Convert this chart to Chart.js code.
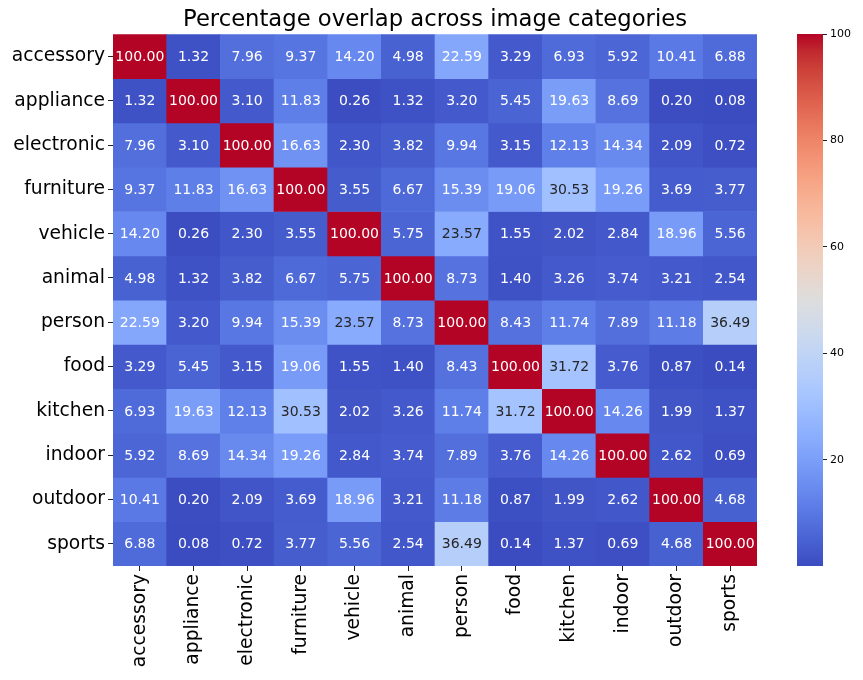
<!DOCTYPE html>
<html>
<head>
<meta charset="utf-8">
<script src="https://cdn.jsdelivr.net/npm/chart.js@4.4.0/dist/chart.umd.min.js"></script>
<style>
  body { margin: 0; background: #fff; }
  #wrap { position: relative; width: 863px; height: 680px; }
  #heat { position: absolute; left: 0; top: 0; }
  #cbar { position: absolute; left: 760px; top: 0; }
</style>
</head>
<body>
<div id="wrap">
  <canvas id="heat" width="863" height="680"></canvas>
  <canvas id="cbar" width="103" height="680"></canvas>
</div>
<script>
// categories (rows top to bottom, columns left to right)
const categories = [
  "accessory", "appliance", "electronic", "furniture", "vehicle", "animal",
  "person", "food", "kitchen", "indoor", "outdoor", "sports",
];

// overlap values, one array per row
const accessory  = [100.00, 1.32, 7.96, 9.37, 14.20, 4.98, 22.59, 3.29, 6.93, 5.92, 10.41, 6.88];
const appliance  = [1.32, 100.00, 3.10, 11.83, 0.26, 1.32, 3.20, 5.45, 19.63, 8.69, 0.20, 0.08];
const electronic = [7.96, 3.10, 100.00, 16.63, 2.30, 3.82, 9.94, 3.15, 12.13, 14.34, 2.09, 0.72];
const furniture  = [9.37, 11.83, 16.63, 100.00, 3.55, 6.67, 15.39, 19.06, 30.53, 19.26, 3.69, 3.77];
const vehicle    = [14.20, 0.26, 2.30, 3.55, 100.00, 5.75, 23.57, 1.55, 2.02, 2.84, 18.96, 5.56];
const animal     = [4.98, 1.32, 3.82, 6.67, 5.75, 100.00, 8.73, 1.40, 3.26, 3.74, 3.21, 2.54];
const person     = [22.59, 3.20, 9.94, 15.39, 23.57, 8.73, 100.00, 8.43, 11.74, 7.89, 11.18, 36.49];
const food       = [3.29, 5.45, 3.15, 19.06, 1.55, 1.40, 8.43, 100.00, 31.72, 3.76, 0.87, 0.14];
const kitchen    = [6.93, 19.63, 12.13, 30.53, 2.02, 3.26, 11.74, 31.72, 100.00, 14.26, 1.99, 1.37];
const indoor     = [5.92, 8.69, 14.34, 19.26, 2.84, 3.74, 7.89, 3.76, 14.26, 100.00, 2.62, 0.69];
const outdoor    = [10.41, 0.20, 2.09, 3.69, 18.96, 3.21, 11.18, 0.87, 1.99, 2.62, 100.00, 4.68];
const sports     = [6.88, 0.08, 0.72, 3.77, 5.56, 2.54, 36.49, 0.14, 1.37, 0.69, 4.68, 100.00];

const rows = [accessory, appliance, electronic, furniture, vehicle, animal,
  person, food, kitchen, indoor, outdoor, sports];

const colorbarTicks = [20, 40, 60, 80, 100];

const vmin = Math.min(...rows.flat());
const vmax = 100;

// coolwarm colormap
const coolwarm = [
  [59,76,192],[68,90,204],[77,104,215],[87,117,225],[98,130,234],[108,142,241],
  [119,154,247],[130,165,251],[141,176,254],[152,185,255],[163,194,255],[174,201,253],
  [184,208,249],[194,213,244],[204,217,238],[213,219,230],[221,221,221],[229,216,209],
  [236,211,197],[241,204,185],[245,196,173],[247,187,160],[247,177,148],[247,166,135],
  [244,154,123],[241,141,111],[236,127,99],[229,112,88],[222,96,77],[213,80,66],
  [203,62,56],[192,40,47],[180,4,38],
];

function cmapRGB(t) {
  t = Math.max(0, Math.min(1, t));
  const p = t * (coolwarm.length - 1);
  const i = Math.min(Math.floor(p), coolwarm.length - 2);
  const f = p - i;
  const a = coolwarm[i], b = coolwarm[i + 1];
  return [0, 1, 2].map(k => Math.round(a[k] + (b[k] - a[k]) * f));
}
const rgbStr = c => `rgb(${c[0]},${c[1]},${c[2]})`;
const valueColor = v => rgbStr(cmapRGB((v - vmin) / (vmax - vmin)));

function textColor(v) {
  const c = cmapRGB((v - vmin) / (vmax - vmin)).map(x => {
    x /= 255;
    return x <= 0.03928 ? x / 12.92 : Math.pow((x + 0.055) / 1.055, 2.4);
  });
  const lum = 0.2126 * c[0] + 0.7152 * c[1] + 0.0722 * c[2];
  return lum > 0.408 ? "#262626" : "#ffffff";
}

Chart.defaults.font.family = "'DejaVu Sans', sans-serif";
Chart.defaults.color = "#000";

const cellLabels = {
  id: "cellLabels",
  afterDatasetsDraw(chart) {
    const ctx = chart.ctx;
    ctx.save();
    ctx.font = "14px 'DejaVu Sans'";
    ctx.textAlign = "center";
    ctx.textBaseline = "middle";
    chart.data.datasets.forEach((ds, di) => {
      chart.getDatasetMeta(di).data.forEach((el, ci) => {
        const v = ds.values[ci];
        const p = el.getCenterPoint();
        ctx.fillStyle = textColor(v);
        ctx.fillText(v.toFixed(2), p.x, p.y + 1);
      });
    });
    ctx.restore();
  },
};

new Chart(document.getElementById("heat"), {
  type: "bar",
  data: {
    labels: categories,
    datasets: rows.map((r, i) => ({
      label: categories[i],
      data: r.map(() => 1),
      values: r,
      backgroundColor: r.map(valueColor),
      borderWidth: 0,
      barPercentage: 1,
      categoryPercentage: 1,
    })),
  },
  options: {
    responsive: false,
    animation: false,
    layout: { padding: { left: 0, right: 106, top: 0, bottom: 0 } },
    plugins: {
      legend: { display: false },
      tooltip: { enabled: false },
      title: {
        display: true,
        fullSize: false,
        text: "Percentage overlap across image categories",
        font: { size: 22.7, weight: "normal" },
        color: "#000",
        padding: { top: 6, bottom: 1 },
      },
    },
    scales: {
      x: {
        stacked: true,
        grid: { drawOnChartArea: false, offset: false, tickLength: 5, color: "#222" },
        border: { display: false },
        ticks: { font: { size: 18.7 }, maxRotation: 90, minRotation: 90, padding: 3 },
        afterFit(scale) { scale.height = 114; },
      },
      y: {
        stacked: true,
        reverse: true,
        min: 0,
        max: categories.length,
        grid: { drawOnChartArea: false, tickLength: 5, color: "#222" },
        border: { display: false },
        ticks: {
          font: { size: 18.7 },
          padding: 3,
          callback: (v, i) => categories[i],
        },
        afterBuildTicks(scale) {
          scale.ticks = categories.map((c, i) => ({ value: i + 0.5 }));
        },
        afterFit(scale) { scale.width = 113; },
      },
    },
  },
  plugins: [cellLabels],
});

// colorbar
new Chart(document.getElementById("cbar"), {
  type: "bar",
  data: {
    labels: [""],
    datasets: [{
      data: [[vmin, vmax]],
      borderWidth: 0,
      barPercentage: 1,
      categoryPercentage: 1,
      backgroundColor(ctx) {
        const area = ctx.chart.chartArea;
        if (!area) return valueColor(50);
        const g = ctx.chart.ctx.createLinearGradient(0, area.bottom, 0, area.top);
        coolwarm.forEach((c, i) => g.addColorStop(i / (coolwarm.length - 1), rgbStr(c)));
        return g;
      },
    }],
  },
  options: {
    responsive: false,
    animation: false,
    layout: { padding: { left: 37, right: 0, top: 34, bottom: 114 } },
    plugins: { legend: { display: false }, tooltip: { enabled: false } },
    scales: {
      x: { display: false },
      y: {
        position: "right",
        min: vmin,
        max: vmax,
        grid: { drawOnChartArea: false, tickLength: 4, color: "#222" },
        border: { display: false },
        ticks: { font: { size: 11 }, padding: 3 },
        afterBuildTicks(scale) {
          scale.ticks = colorbarTicks.map(v => ({ value: v }));
        },
        afterFit(scale) { scale.width = 40; },
      },
    },
  },
});
</script>
</body>
</html>
